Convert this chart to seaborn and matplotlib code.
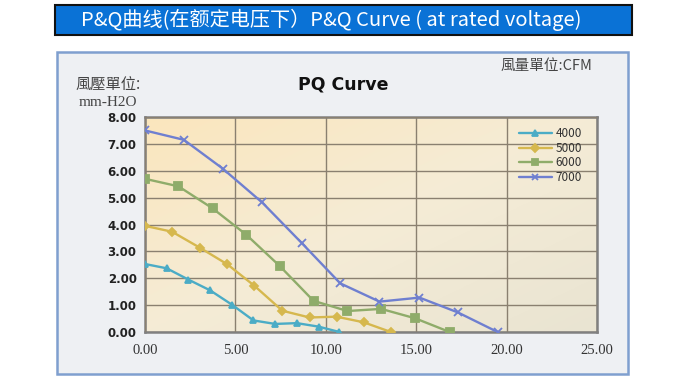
import numpy as np
import pandas as pd
import matplotlib
matplotlib.use("Agg")
import matplotlib.pyplot as plt
import seaborn as sns
from matplotlib.patches import Rectangle
from matplotlib.colors import LinearSegmentedColormap

# PQ data (CFM vs mm-H2O)
series = ["4000", "5000", "6000", "7000"]
cfm_4000 = [0.0, 1.2, 2.4, 3.6, 4.8, 6.0, 7.2, 8.4, 9.6, 10.75]
p_4000 = [2.53, 2.37, 1.95, 1.55, 1.02, 0.43, 0.30, 0.33, 0.20, 0.0]
cfm_5000 = [0.0, 1.5, 3.05, 4.55, 6.05, 7.6, 9.1, 10.6, 12.1, 13.6]
p_5000 = [3.95, 3.73, 3.13, 2.52, 1.72, 0.79, 0.54, 0.57, 0.36, 0.0]
cfm_6000 = [0.0, 1.85, 3.74, 5.6, 7.46, 9.32, 11.2, 13.06, 14.94, 16.85]
p_6000 = [5.70, 5.42, 4.60, 3.62, 2.45, 1.16, 0.78, 0.86, 0.51, 0.0]
cfm_7000 = [0.0, 2.15, 4.3, 6.48, 8.67, 10.8, 12.97, 15.18, 17.3, 19.5]
p_7000 = [7.50, 7.15, 6.08, 4.82, 3.31, 1.81, 1.13, 1.28, 0.73, 0.0]

colors = ["#4bacc6", "#d6b84e", "#8fac6a", "#6f7fd0"]
markers = ["^", "D", "s", "x"]
msizes = [5, 4.5, 5.5, 6]

data = {
    "4000": (cfm_4000, p_4000),
    "5000": (cfm_5000, p_5000),
    "6000": (cfm_6000, p_6000),
    "7000": (cfm_7000, p_7000),
}

sns.set_theme(style="white")
plt.rcParams['font.family'] = ['Noto Sans CJK TC', 'DejaVu Sans']

fig = plt.figure(figsize=(6.8, 3.8), dpi=100)
fig.patch.set_facecolor("white")

# outer panel
fig.patches.append(Rectangle((57/680, 1-374/380), 571/680, 322/380, transform=fig.transFigure,
                             facecolor="#eef0f3", edgecolor="#7f9fcf", lw=1.8, zorder=0))
# title bar
fig.patches.append(Rectangle((55/680, 1-35/380), 577/680, 30/380, transform=fig.transFigure,
                             facecolor="#0a72d6", edgecolor="#111111", lw=1.5, zorder=0))
fig.text(331/680, 1-20/380, "P&Q曲线(在额定电压下）P&Q Curve ( at rated voltage)",
         color="white", fontsize=14.5, ha="center", va="center",
         family=['Noto Sans CJK SC', 'DejaVu Sans'])

ax = fig.add_axes([145/680, 1-332/380, 452/680, 215/380])
ax.set_zorder(5)

# beige gradient background
grad = np.linspace(0, 1, 256).reshape(1, -1) + np.linspace(0, 1, 256).reshape(-1, 1)
bg = LinearSegmentedColormap.from_list("bg", ["#fbe6bd", "#f5ecd6", "#e9e4d2"])
ax.imshow(grad, cmap=bg, extent=[0, 1, 0, 1], transform=ax.transAxes,
          aspect="auto", zorder=0, origin="upper")

for name, c, m, ms in zip(series, colors, markers, msizes):
    x, y = data[name]
    sns.lineplot(x=x, y=y, color=c, marker=m, markersize=ms, markeredgewidth=1.3,
                 markeredgecolor=c, lw=1.7, sort=False, label=name, ax=ax, zorder=3)

ax.set_xlim(0, 25)
ax.set_ylim(0, 8)
ax.set_xticks([0, 5, 10, 15, 20, 25])
ax.set_yticks(range(0, 9))
ax.set_xticklabels(["%.2f" % v for v in [0, 5, 10, 15, 20, 25]],
                   family="Liberation Serif", fontsize=10.5, color="#333333")
ax.set_yticklabels(["%.2f" % v for v in range(0, 9)],
                   family="DejaVu Sans", fontsize=8.5, fontweight="bold", color="#222222")
ax.tick_params(axis="both", length=0, pad=6)
ax.tick_params(axis="x", pad=9)
ax.grid(True, color="#8a8070", lw=1)
ax.set_axisbelow(False)
for s in ax.spines.values():
    s.set_color("#808080")
    s.set_linewidth(1.8)
ax.set_xlabel("")
ax.set_ylabel("")

leg = ax.legend(loc="upper right", frameon=False, fontsize=8.5, handlelength=2.8,
                labelspacing=0.12, borderaxespad=0.3, handletextpad=0.3,
                markerscale=0.8, bbox_to_anchor=(0.985, 0.99))
for t in leg.get_texts():
    t.set_color("#333333")

fig.text(343/680, 1-84/380, "PQ Curve", fontsize=12.5, fontweight="bold",
         ha="center", va="center", color="#111111", family="DejaVu Sans")
fig.text(108/680, 1-84/380, "風壓單位:", fontsize=11, ha="center", va="center", color="#444444")
fig.text(108/680, 1-102/380, "mm-H2O", fontsize=11, ha="center", va="center",
         color="#444444", family="Liberation Serif")
fig.text(546/680, 1-66/380, "風量單位:CFM", fontsize=10.5, ha="center", va="center", color="#444444")

fig.savefig("out.png", dpi=100)
